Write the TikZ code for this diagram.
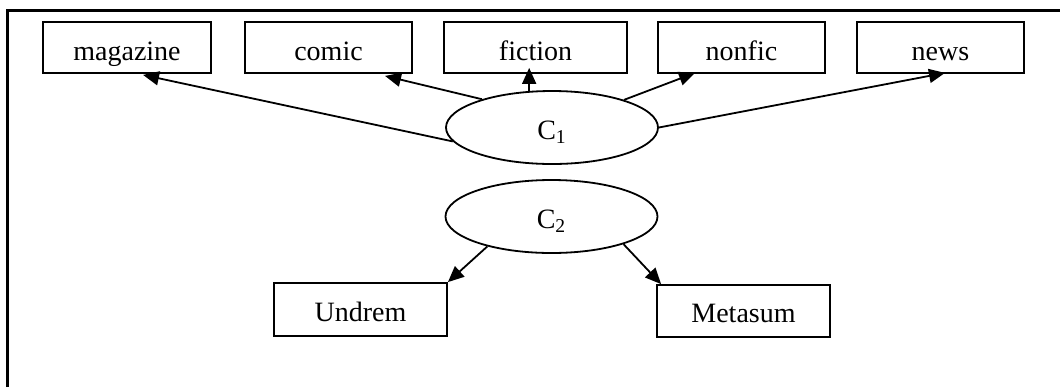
\documentclass[tikz,border=0pt]{standalone}
\usepackage{fontspec}
\setmainfont{Liberation Serif}
\usetikzlibrary{shapes.geometric,arrows.meta,calc}
\begin{document}
\begin{tikzpicture}[x=0.5pt,y=-0.5pt,
  box/.style={draw,line width=0.9pt,rectangle,inner sep=0pt,minimum height=25.5pt,text height=12.5pt,text depth=0pt,font=\fontsize{14}{16}\selectfont},
  oval/.style={draw,line width=0.9pt,ellipse,inner sep=0pt,minimum width=106pt,minimum height=36.5pt,text height=11.5pt,text depth=0pt,font=\fontsize{14}{16}\selectfont},
  arr/.style={line width=0.9pt,-{Triangle[length=8pt,width=7pt]}},
  frame/.style={line width=1.5pt}]
\useasboundingbox (0,0) rectangle (1060,387);
\draw[frame] (7,387) -- (7,10) -- (1060,10);
\node[box,minimum width=84pt] (magazine) at (127,47.5) {magazine};
\node[box,minimum width=83.5pt] (comic) at (328.5,47.5) {comic};
\node[box,minimum width=91.5pt] (fiction) at (535.5,47.5) {fiction};
\node[box,minimum width=83.5pt] (nonfic) at (741.5,47.5) {nonfic};
\node[box,minimum width=83.5pt] (news) at (940.5,47.5) {news};
\node[oval] (c1) at (552,127.5) {C\textsubscript{1}};
\node[oval] (c2) at (551.5,216.5) {C\textsubscript{2}};
\node[box,minimum width=86.5pt,minimum height=26.5pt,text height=11.5pt] (undrem) at (360.5,309.5) {Undrem};
\node[box,minimum width=86.5pt,minimum height=26pt,text height=11pt] (metasum) at (743.5,311) {Metasum};
\draw[arr] (c1.188) -- ($(magazine.south)+(16,1)$);
\draw[arr] (c1.158) -- ($(comic.south)+(56.5,2)$);
\draw[arr] (c1.122) -- ($(c1.122 |- fiction.south)+(0,-6)$);
\draw[arr] (c1.21) -- ($(nonfic.south)+(-46.5,-1)$);
\draw[arr] (c1.east) -- ($(news.south)+(4.5,-1)$);
\draw[arr] (c2.205) -- (undrem.north east);
\draw[arr] (c2.339) -- ($(metasum.north west)+(5,0)$);
\end{tikzpicture}
\end{document}
